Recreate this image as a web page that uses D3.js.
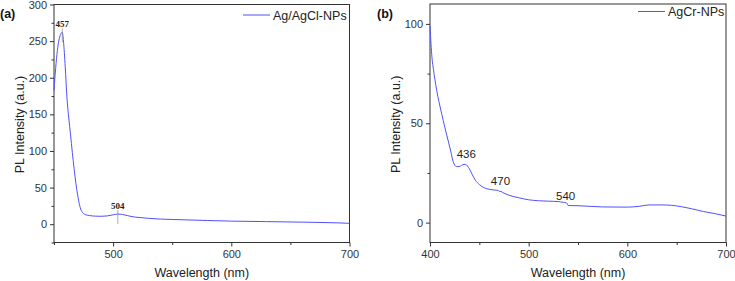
<!DOCTYPE html>
<html>
<head>
<meta charset="utf-8">
<script src="https://cdn.jsdelivr.net/npm/d3@7"></script>
<style>
  html, body { margin: 0; padding: 0; background: #fff; }
  svg { display: block; font-family: "Liberation Sans", Arial, sans-serif; }
</style>
</head>
<body>
<svg id="chart" width="735" height="281"></svg>
<script>
// panel (a): Ag/AgCl-NPs
const wlA = [450, 451, 452.5, 454, 455.5, 457, 458, 459.5, 461, 462.5, 464, 465.5, 467, 468.5, 470, 471.5, 473, 475, 477, 480, 485, 490, 495, 500, 504, 508, 512, 516, 522, 530, 540, 560, 580, 600, 630, 660, 690, 700];
const plA = [183, 205, 232, 250, 259, 262, 250, 215, 172, 145, 122, 98, 76, 56, 40, 27, 19, 14.5, 12.8, 11.8, 11, 10.8, 11.3, 12.8, 13.8, 13.2, 11.8, 10.3, 9.2, 8, 7, 6, 5, 4.2, 3.5, 2.8, 1.8, 1.2];
const peaksA = [{ label: "457", wl: 457, val: 262 }, { label: "504", wl: 504, val: 13.8 }];

// panel (b): AgCr-NPs
const wlB = [400, 401, 402, 403.5, 405, 407, 409, 412, 415, 417, 419, 421, 423, 425, 427, 429.5, 432, 434.5, 436, 438, 440, 443, 446, 450, 455, 460, 465, 469, 470, 471, 475, 480, 490, 500, 510, 520, 530, 535, 538, 539, 540, 542, 550, 575, 600, 612, 622, 635, 645, 655, 665, 677, 690, 700];
const plB = [99, 90, 83, 77, 72, 66, 61, 54.5, 48, 44, 40, 36, 31.5, 29, 28.2, 28.2, 28.8, 29.3, 29.3, 28.5, 27, 24, 21.3, 19.2, 17.5, 16.8, 16.4, 16.2, 15.7, 15.8, 14.8, 13.8, 12.5, 11.5, 11, 10.8, 10.6, 10.2, 10, 9.6, 8.6, 8.6, 8.5, 7.9, 7.8, 8.2, 8.9, 8.9, 8.7, 8, 7, 5.6, 4.4, 3.3];
const peaksB = [{ label: "436", wl: 436.8, val: 29.3 }, { label: "470", wl: 471.4, val: 15.7 }, { label: "540", wl: 537.5, val: 8.6 }];

const LINE = "#5050ff";
const INK = "#333";

const svg = d3.select("#chart");

function drawPanel(o) {
  const x = d3.scaleLinear().domain(o.xDomain).range([o.left, o.right]);
  const y = d3.scaleLinear().domain(o.yDomain).range([o.bottom, o.top]);
  const g = svg.append("g");

  // minor ticks first, then major ones with labels
  const xMinor = d3.range(o.xDomain[0], o.xDomain[1] + 0.1, o.xStep / 2).filter((v) => v % o.xStep !== 0);
  const yMinor = d3.range(Math.ceil(o.yDomain[0] / (o.yStep / 2)) * (o.yStep / 2), o.yDomain[1] + 0.1, o.yStep / 2).filter((v) => v % o.yStep !== 0);

  g.append("g")
    .attr("transform", `translate(0,${o.bottom})`)
    .call(d3.axisBottom(x).tickValues(xMinor).tickSize(2.5).tickFormat(""));
  g.append("g")
    .attr("transform", `translate(${o.left},0)`)
    .call(d3.axisLeft(y).tickValues(yMinor).tickSize(2.5).tickFormat(""));

  const xMajor = d3.range(Math.ceil(o.xDomain[0] / o.xStep) * o.xStep, o.xDomain[1] + 0.1, o.xStep);
  const yMajor = d3.range(Math.ceil(o.yDomain[0] / o.yStep) * o.yStep, o.yDomain[1] + 0.1, o.yStep).filter((v) => v >= 0);

  g.append("g")
    .attr("class", "xaxis")
    .attr("transform", `translate(0,${o.bottom})`)
    .call(d3.axisBottom(x).tickValues(xMajor).tickSize(4).tickPadding(4));
  g.append("g")
    .attr("class", "yaxis")
    .attr("transform", `translate(${o.left},0)`)
    .call(d3.axisLeft(y).tickValues(yMajor).tickSize(4).tickPadding(3));

  g.selectAll(".domain").remove();
  g.selectAll(".tick line").attr("stroke", INK);
  g.selectAll(".tick text").attr("fill", INK).style("font-size", "11px").style("font-family", "Liberation Sans, Arial, sans-serif");

  // frame
  g.append("rect")
    .attr("x", o.left).attr("y", o.top)
    .attr("width", o.right - o.left).attr("height", o.bottom - o.top)
    .attr("fill", "none").attr("stroke", INK).attr("stroke-width", 1);

  // spectrum
  const pts = o.wl.map((w, i) => [w, o.pl[i]]);
  g.append("path")
    .datum(pts)
    .attr("fill", "none")
    .attr("stroke", LINE)
    .attr("stroke-width", 1)
    .attr("d", d3.line().x((d) => x(d[0])).y((d) => y(d[1])).curve(d3.curveMonotoneX));

  // peak annotations
  o.peaks.forEach((p) => {
    if (o.serifPeaks) {
      g.append("line")
        .attr("x1", x(p.wl)).attr("x2", x(p.wl))
        .attr("y1", y(p.val) - 4).attr("y2", y(p.val) + 10)
        .attr("stroke", "#888").attr("stroke-width", 0.7);
      g.append("text")
        .attr("x", x(p.wl)).attr("y", y(p.val) - 5)
        .attr("text-anchor", "middle")
        .style("font-family", "Liberation Serif, Times New Roman, serif")
        .style("font-weight", "bold")
        .style("font-size", "9px")
        .attr("fill", "#222")
        .text(p.label);
    } else {
      g.append("text")
        .attr("x", x(p.wl)).attr("y", y(p.val) - 6)
        .attr("text-anchor", "middle")
        .style("font-size", "11.5px")
        .attr("fill", "#222")
        .text(p.label);
    }
  });

  // legend
  g.append("line")
    .attr("x1", o.legX).attr("x2", o.legX + 27)
    .attr("y1", o.legY).attr("y2", o.legY)
    .attr("stroke", LINE).attr("stroke-width", 1);
  g.append("text")
    .attr("x", o.legX + 30).attr("y", o.legY + 4.5)
    .style("font-size", "12.5px")
    .attr("fill", "#222")
    .text(o.name);

  // axis titles
  g.append("text")
    .attr("x", (o.left + o.right) / 2).attr("y", 277)
    .attr("text-anchor", "middle")
    .style("font-size", "12.5px")
    .attr("fill", "#222")
    .text("Wavelength (nm)");
  g.append("text")
    .attr("transform", `translate(${o.left - 30},${(o.top + o.bottom) / 2 + 1}) rotate(-90)`)
    .attr("text-anchor", "middle")
    .style("font-size", "12.5px")
    .attr("fill", "#222")
    .text("PL Intensity (a.u.)");

  // panel letter
  g.append("text")
    .attr("x", o.tagX).attr("y", 17.5)
    .style("font-size", "12.5px")
    .style("font-weight", "bold")
    .attr("fill", "#111")
    .text(o.tag);
}

drawPanel({
  tag: "(a)", tagX: 0, name: "Ag/AgCl-NPs",
  wl: wlA, pl: plA, peaks: peaksA, serifPeaks: true,
  xDomain: [450, 700], xStep: 100,
  yDomain: [-25, 300], yStep: 50,
  left: 54, right: 349.5, top: 4.5, bottom: 242.5,
  legX: 243, legY: 15
});

drawPanel({
  tag: "(b)", tagX: 377, name: "AgCr-NPs",
  wl: wlB, pl: plB, peaks: peaksB, serifPeaks: false,
  xDomain: [400, 700], xStep: 100,
  yDomain: [-10, 110], yStep: 50,
  left: 430, right: 726, top: 4, bottom: 242.5,
  legX: 638, legY: 11.5
});
</script>
</body>
</html>
